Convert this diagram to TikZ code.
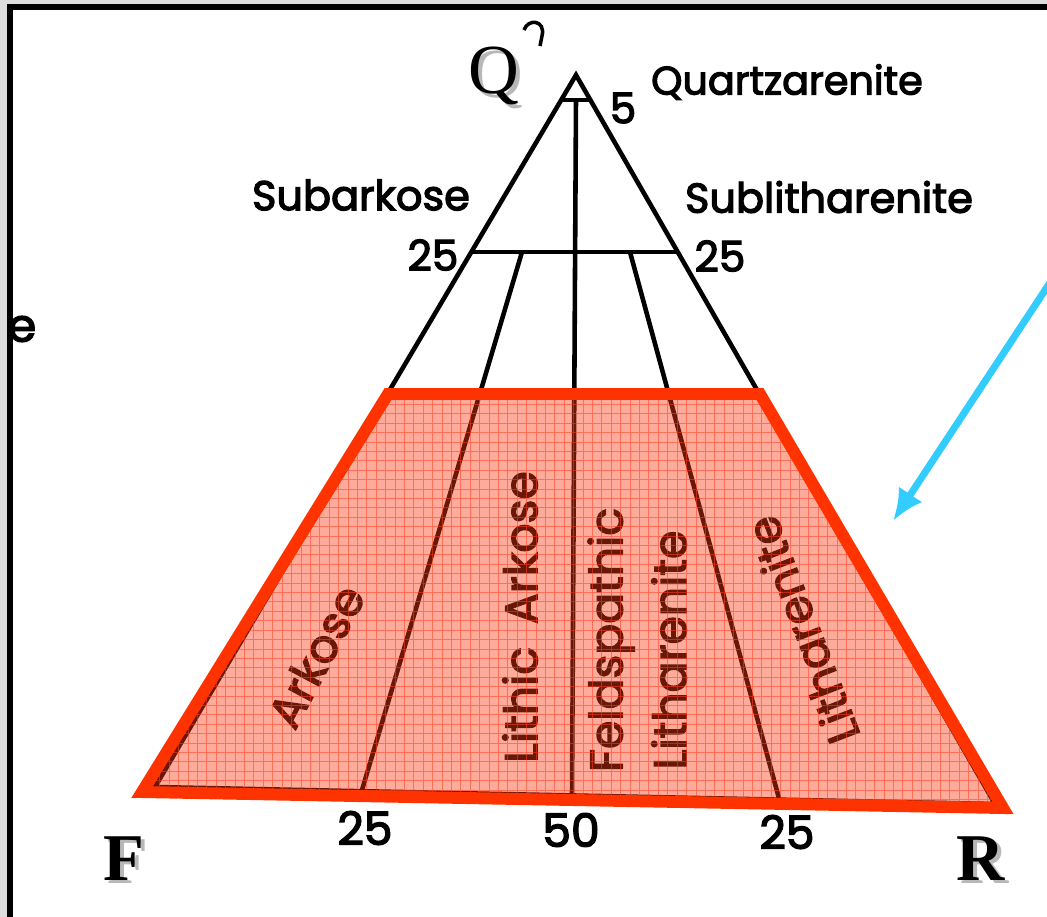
\documentclass[tikz,border=0pt]{standalone}
\usepackage{fontspec}
\setmainfont{Liberation Serif}
\newfontfamily\scanfont{Poppins}[FakeBold=3]
\usetikzlibrary{arrows.meta}

\definecolor{pagegray}{RGB}{221,221,221}
\definecolor{fieldred}{RGB}{255,51,0}
\definecolor{overlayred}{RGB}{255,55,20}
\definecolor{gridred}{RGB}{255,60,30}
\definecolor{arrowcyan}{RGB}{51,204,255}

\newcommand{\shadowed}[1]{\makebox[0pt][l]{\hspace{1pt}\raisebox{-1pt}{\textcolor{black!28}{#1}}}#1}

\begin{document}
\begin{tikzpicture}[
  x=0.01cm, y=-0.01cm,
  every node/.style={inner sep=0pt, align=center},
  ternline/.style={draw=black, line width=1.3pt},
  classname/.style={font=\scanfont\fontsize{11.8}{11.8}\selectfont},
  fieldname/.style={font=\scanfont\fontsize{13}{13}\selectfont},
  tickname/.style={font=\scanfont\fontsize{12}{12}\selectfont},
  polename/.style={font=\fontsize{19}{19}\selectfont\bfseries},
  fieldbox/.style={draw=fieldred, line width=3.4pt},
  pointer/.style={-{Latex[length=9pt,width=8pt]}, draw=arrowcyan, line width=2pt}
]

% --- PAGE AND FRAME ---
\useasboundingbox (0,0) rectangle (1047,917);
\fill[pagegray] (0,0) rectangle (1047,917);
\fill[white] (13,10) rectangle (1047,917);
\node[fieldname] (cutlabel) at (22,329) {e};
\fill[black] (7,4) rectangle (1047,10);
\fill[black] (7,4) rectangle (13,917);

% --- QFR TRIANGLE ---
\coordinate (apex) at (576,75);
\coordinate (fcorner) at (155,787);
\coordinate (rcorner) at (995,804);
\coordinate (q5l) at (561,100);
\coordinate (q5r) at (590,100);
\coordinate (q5c) at (576,100);
\coordinate (q25l) at (471,252);
\coordinate (q25r) at (678,252);
\coordinate (q25a) at (522,252);
\coordinate (q25b) at (630,252);
\coordinate (fr25l) at (362,790);
\coordinate (fr50) at (572,797);
\coordinate (fr25r) at (780,802);

\draw[ternline] (fcorner) -- (apex) -- (rcorner) -- cycle;
\draw[ternline] (q5l) -- (q5r);
\draw[ternline] (q25l) -- (q25r);
\draw[ternline] (q5c) -- (fr50);
\draw[ternline] (q25a) -- (fr25l);
\draw[ternline] (q25b) -- (fr25r);
\draw[line width=1pt] (524,30) .. controls (528,18) and (546,20) .. (542,36) -- (540,46);

% class names and percentages
\node[classname, font=\scanfont\fontsize{11.3}{11.3}\selectfont] (quartz) at (787,82) {Quartzarenite};
\node[tickname] (five) at (623,108) {5};
\node[classname] (subark) at (361,195) {Subarkose};
\node[classname] (sublith) at (829,197) {Sublitharenite};
\node[tickname] (left25) at (433,255) {25};
\node[tickname] (right25) at (720,256) {25};

% names inside the lower field
\node[fieldname, rotate=62] (arkose) at (316,656) {Arkose};
\node[fieldname, rotate=90] (lithark) at (520,617) {Lithic\hspace{0.5em}Arkose};
\node[fieldname, rotate=90] (feldsp) at (611,640) {Feldspathic};
\node[fieldname, rotate=90] (feldlith) at (669,650) {Litharenite};
\node[fieldname, rotate=111] (lithar) at (802,630) {Litharenite};

% --- HIGHLIGHTED FIELD ---
\coordinate (boxtl) at (388,394);
\coordinate (boxtr) at (760,394);
\coordinate (boxbr) at (1003,808);
\coordinate (boxbl) at (142,792);
\begin{scope}
  \clip (boxtl) -- (boxtr) -- (boxbr) -- (boxbl) -- cycle;
  \fill[overlayred, opacity=0.42] (100,820) rectangle (1020,380);
  \draw[gridred, opacity=0.55, line width=0.25pt, step=0.094cm] (100,820) grid (1020,380);
\end{scope}
\draw[fieldbox] (boxtl) -- (boxtr) -- (boxbr) -- (boxbl) -- cycle;

% --- POLES AND BASE TICKS ---
\node[font=\fontsize{20}{20}\selectfont] (qpole) at (494,78) {\shadowed{Q}};
\node[polename] (fpole) at (124,860) {\shadowed{F}};
\node[polename] (rpole) at (981,860) {\shadowed{R}};
\node[tickname, font=\scanfont\fontsize{13}{13}\selectfont] (base25l) at (365,828) {25};
\node[tickname, font=\scanfont\fontsize{13}{13}\selectfont] (base50) at (571,830) {50};
\node[tickname, font=\scanfont\fontsize{13}{13}\selectfont] (base25r) at (787,832) {25};

% --- POINTER ---
\coordinate (pointfrom) at (1055,275);
\coordinate (pointto) at (893,521);
\draw[pointer] (pointfrom) -- (pointto);

\end{tikzpicture}
\end{document}
